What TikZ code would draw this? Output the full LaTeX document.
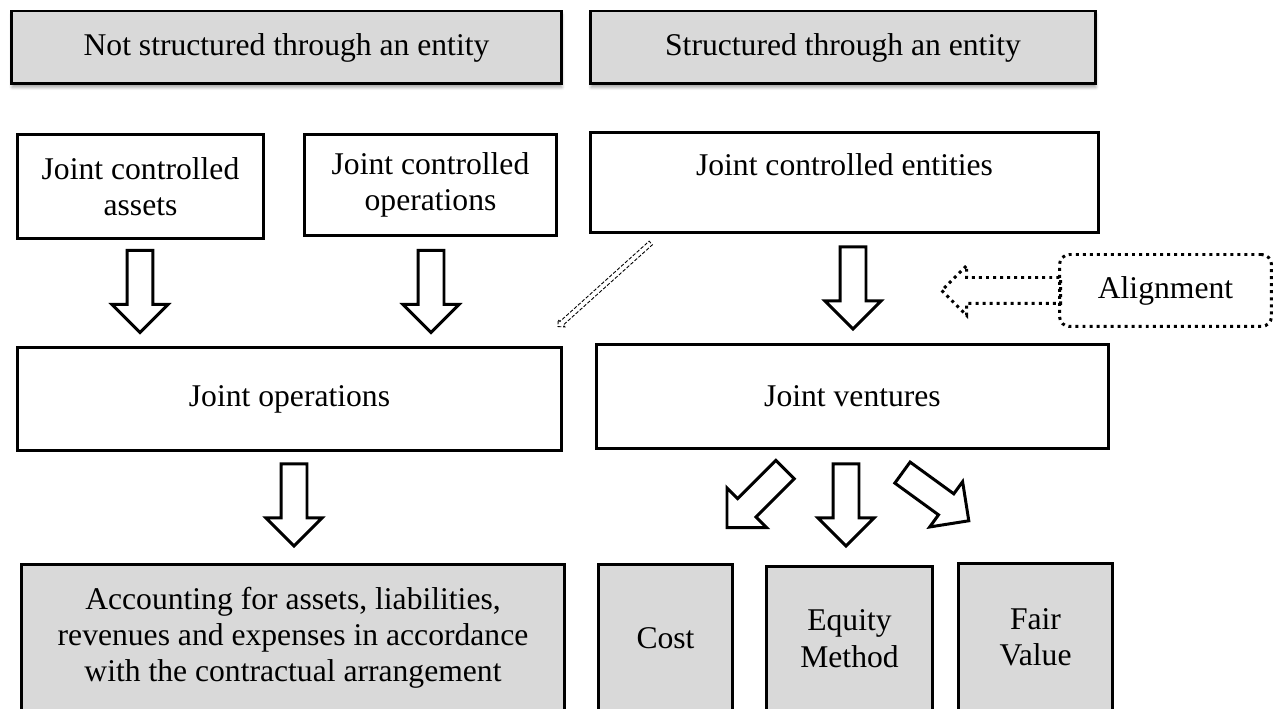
\documentclass[tikz,border=0pt]{standalone}
\usepackage{fontspec}
\setmainfont{Liberation Serif}
\usetikzlibrary{shapes.arrows,shadows.blur,calc}
\definecolor{boxgray}{RGB}{217,217,217}

\begin{document}
\begin{tikzpicture}[x=0.02cm, y=0.02cm,
	font=\fontsize{18}{20.7}\selectfont,
	box/.style={draw, line width=1.7pt, align=center, inner sep=0pt},
	graybox/.style={box, fill=boxgray},
	shadowbox/.style={graybox, blur shadow={shadow xshift=0.01cm, shadow yshift=-0.07cm, shadow blur steps=6, shadow blur radius=0.06cm, shadow opacity=35}},
	blockarrow/.style={single arrow, draw, line width=1.7pt, fill=white, inner xsep=0pt, inner ysep=0.23cm,
		single arrow head extend=0.3cm, single arrow tip angle=90, minimum height=1.64cm, anchor=tip},
	dotline/.style={line width=1.7pt, dash pattern=on 1.7pt off 2.3pt}]
	\useasboundingbox (0,0) rectangle (1282,-709);
	\clip (0,0) rectangle (1282,-709);

	\node[shadowbox, minimum width=11cm, minimum height=1.46cm] (notstruct) at (286.5,-47.5) {Not structured through an entity};
	\node[shadowbox, minimum width=10.1cm, minimum height=1.46cm] (struct) at (843,-47.5) {Structured through an entity};

	\node[box, minimum width=4.92cm, minimum height=2.08cm] (assets) at (140.5,-186.5) {Joint controlled\\assets};
	\node[box, minimum width=5.04cm, minimum height=2.02cm] (operations) at (430.5,-185) {Joint controlled\\operations};
	\node[box, minimum width=10.16cm, minimum height=2cm] (entities) at (844.5,-182.5) {Joint controlled entities\\~};

	\node[box, minimum width=10.88cm, minimum height=2.06cm] (jointops) at (289.5,-399) {Joint operations};
	\node[box, minimum width=10.24cm, minimum height=2.08cm] (ventures) at (852.5,-396.5) {Joint ventures};

	\node[graybox, minimum width=10.86cm, minimum height=2.93cm] (accounting) at (293,-637.75)
		{Accounting for assets, liabilities,\\revenues and expenses in accordance\\with the contractual arrangement};
	\foreach \name/\x/\y/\w/\h/\txt in {cost/665.5/-637.75/2.68/2.93/Cost,
		equity/849.5/-638.75/3.32/2.89/{Equity\\Method}, fair/1035.5/-637.25/3.08/2.95/{Fair\\Value}} {
		\node[graybox, minimum width=\w cm, minimum height=\h cm] (\name) at (\x,\y) {\txt};
	}

	\node[box, dotline, rounded corners=0.2cm, minimum width=4.24cm, minimum height=1.44cm] (align) at (1165.5,-290.5) {Alignment};

	\node[blockarrow, rotate=-90] (a1) at ($(assets.south |- jointops.north)+(-0.5,11.5)$) {};
	\node[blockarrow, rotate=-90] (a2) at ($(operations.south |- jointops.north)+(0.5,11.5)$) {};
	\node[blockarrow, rotate=-90] (a3) at ($(ventures.north)+(0.5,12)$) {};
	\node[blockarrow, rotate=-90] (a4) at ($(accounting.north)+(1,15)$) {};
	\node[blockarrow, rotate=-90] (a5) at ($(equity.north)+(-3.5,17)$) {};
	\node[blockarrow, rotate=-135] (a6) at ($(cost.north)+(60,34)$) {};
	\node[blockarrow, rotate=-36] (a7) at ($(fair.north)+(-65,40)$) {};

	\node[blockarrow, dotline, fill=none, rotate=180, minimum height=2.38cm, inner ysep=0.23cm,
		single arrow head extend=0.24cm] (a8) at ($(align.west)+(-118.5,0)$) {};
	\node[single arrow, draw, line width=0.5pt, dash pattern=on 2pt off 1pt, inner xsep=0pt, inner ysep=0.04cm,
		single arrow head extend=0.05cm, single arrow tip angle=90, minimum height=2.5cm, anchor=tip,
		rotate=-138] (a9) at ($(jointops.north east)+(-5.5,19)$) {};
\end{tikzpicture}
\end{document}
